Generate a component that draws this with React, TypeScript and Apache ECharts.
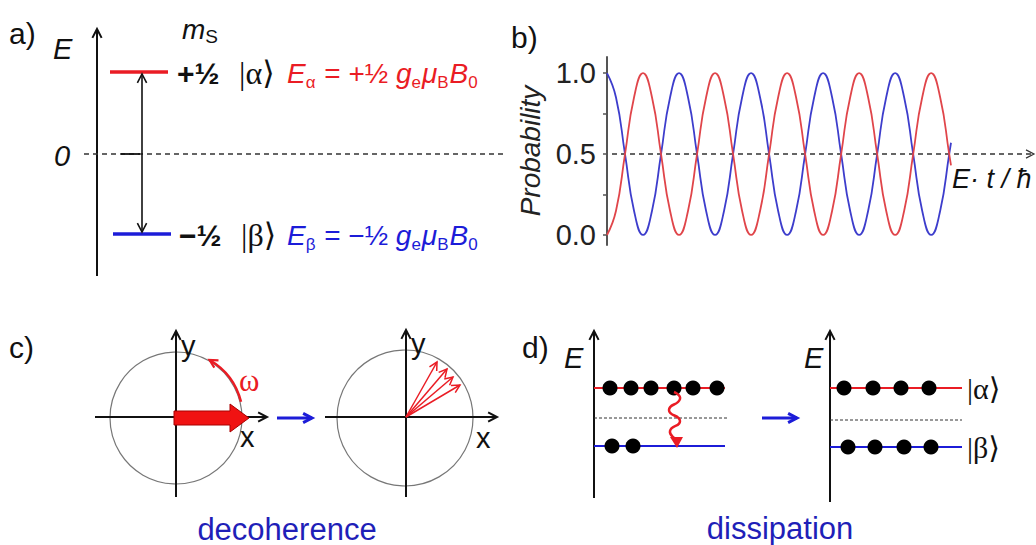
import React, { useEffect, useRef } from "react";
import * as echarts from "echarts";

// ---- Panel b data ----
const tValues = [
  0, 0.25, 0.5, 0.75, 1, 1.25, 1.5, 1.75, 2, 2.25, 2.5, 2.75, 3, 3.25, 3.5, 3.75,
  4, 4.25, 4.5, 4.75, 5, 5.25, 5.5, 5.75, 6, 6.25, 6.5, 6.75, 7, 7.25, 7.5, 7.75,
  8, 8.25, 8.5, 8.75, 9, 9.25, 9.5, 9.55,
];
const blueProb = [
  1.0, 0.85, 0.5, 0.15, 0.0, 0.15, 0.5, 0.85, 1.0, 0.85, 0.5, 0.15, 0.0, 0.15, 0.5, 0.85,
  1.0, 0.85, 0.5, 0.15, 0.0, 0.15, 0.5, 0.85, 1.0, 0.85, 0.5, 0.15, 0.0, 0.15, 0.5, 0.85,
  1.0, 0.85, 0.5, 0.15, 0.0, 0.15, 0.5, 0.57,
];
const redProb = [
  0.0, 0.15, 0.5, 0.85, 1.0, 0.85, 0.5, 0.15, 0.0, 0.15, 0.5, 0.85, 1.0, 0.85, 0.5, 0.15,
  0.0, 0.15, 0.5, 0.85, 1.0, 0.85, 0.5, 0.15, 0.0, 0.15, 0.5, 0.85, 1.0, 0.85, 0.5, 0.15,
  0.0, 0.15, 0.5, 0.85, 1.0, 0.85, 0.5, 0.43,
];
const yLabelValues = [0, 0.5, 1];
const yTickValues = [0, 0.25, 0.5, 0.75, 1];

// ---- Panel d populations ----
const upperBefore = 6;
const lowerBefore = 2;
const upperAfter = 4;
const lowerAfter = 4;

const SANS = '"Liberation Sans", Arial, Helvetica, sans-serif';
const SERIF = '"Liberation Serif", "Times New Roman", "DejaVu Serif", serif';
const RED = "#ea1c24";
const BLUE = "#1c1cd8";
const CURVE_RED = "#e0454a";
const CURVE_BLUE = "#3d3dcc";
const DARK_BLUE = "#1f1fb8";

type Pt = [number, number];

function seg(x1: number, y1: number, x2: number, y2: number, stroke: string, lineWidth: number, lineDash?: number[]) {
  return {
    type: "line",
    silent: true,
    shape: { x1, y1, x2, y2 },
    style: { stroke, lineWidth, lineDash: lineDash || null },
  };
}

function head(x1: number, y1: number, x2: number, y2: number, size: number, color: string, lw: number, filled = false) {
  const a = Math.atan2(y2 - y1, x2 - x1);
  const sp = 0.48;
  const p1: Pt = [x2 - size * Math.cos(a - sp), y2 - size * Math.sin(a - sp)];
  const p2: Pt = [x2 - size * Math.cos(a + sp), y2 - size * Math.sin(a + sp)];
  if (filled) {
    return { type: "polygon", silent: true, shape: { points: [p1, [x2, y2], p2] }, style: { fill: color, stroke: color, lineWidth: 1 } };
  }
  return { type: "polyline", silent: true, shape: { points: [p1, [x2, y2], p2] }, style: { stroke: color, lineWidth: lw, fill: "none" } };
}

function arrow(x1: number, y1: number, x2: number, y2: number, color: string, lw: number, size: number) {
  return [seg(x1, y1, x2, y2, color, lw), head(x1, y1, x2, y2, size, color, lw)];
}

function txt(x: number, y: number, text: string, o: any = {}) {
  return {
    type: "text",
    silent: true,
    x,
    y,
    style: {
      text,
      fill: o.fill || "#111",
      fontSize: o.fontSize || 28,
      fontFamily: o.fontFamily || SANS,
      fontStyle: o.fontStyle || "normal",
      fontWeight: o.fontWeight || "normal",
      align: o.align || "left",
      verticalAlign: o.verticalAlign || "middle",
      rich: o.rich,
    },
  };
}

function energyRich(color: string) {
  const base = { fill: color, fontFamily: SANS, fontSize: 28, lineHeight: 36, verticalAlign: "middle" };
  return {
    i: { ...base, fontStyle: "italic" },
    n: { ...base },
    s: { fill: color, fontFamily: SANS, fontSize: 17, lineHeight: 15, verticalAlign: "bottom", padding: [0, 1, 0, 0] },
  };
}

function dots(xs: number[], y: number) {
  return xs.map((x) => ({ type: "circle", silent: true, shape: { cx: x, cy: y, r: 7.5 }, style: { fill: "#000" } }));
}

function buildGraphic() {
  const g: any[] = [];

  // ---------- Panel a ----------
  g.push(txt(9, 33, "a)", { fontSize: 30 }));
  g.push(...arrow(97, 276, 97, 29, "#111", 2, 10));
  g.push(txt(53, 49, "E", { fontStyle: "italic", fontSize: 29 }));
  g.push(txt(182, 29, "{i|m}{s|S}", {
    rich: {
      i: { fill: "#111", fontFamily: SANS, fontSize: 28, fontStyle: "italic", lineHeight: 34, verticalAlign: "middle" },
      s: { fill: "#111", fontFamily: SANS, fontSize: 19, lineHeight: 15, verticalAlign: "bottom" },
    },
  }));
  g.push(txt(54, 156, "0", { fontStyle: "italic", fontSize: 29 }));
  g.push(seg(84, 154, 505, 154, "#333", 1.3, [5, 4]));
  g.push(seg(121, 154, 140, 154, "#111", 1.8));
  g.push(seg(110, 72, 168, 72, RED, 3.5));
  g.push(seg(113, 234, 171, 234, BLUE, 3.5));
  g.push(seg(142, 76, 142, 230, "#111", 1.6));
  g.push(head(142, 100, 142, 74, 10, "#111", 1.6));
  g.push(head(142, 200, 142, 232, 10, "#111", 1.6));
  g.push(txt(177, 73, "+½", { fontWeight: "bold", fontSize: 30 }));
  g.push(txt(239, 73, "|α⟩", { fontFamily: SERIF, fontSize: 32 }));
  g.push(txt(287, 73, "{i|E}{s|α}{n| = +½ }{i|g}{s|e}{i|μ}{s|B}{i|B}{s|0}", { rich: energyRich(RED) }));
  g.push(txt(179, 235, "−½", { fontWeight: "bold", fontSize: 30 }));
  g.push(txt(241, 235, "|β⟩", { fontFamily: SERIF, fontSize: 32 }));
  g.push(txt(287, 235, "{i|E}{s|β}{n| = −½ }{i|g}{s|e}{i|μ}{s|B}{i|B}{s|0}", { rich: energyRich(BLUE) }));

  // ---------- Panel b extras ----------
  g.push(txt(511, 37, "b)", { fontSize: 30 }));
  g.push(seg(612, 154, 1032, 154, "#333", 1.3, [5, 4]));
  g.push(head(1020, 154, 1034, 154, 9, "#333", 1.2));
  g.push(txt(952, 179, "E· t / ħ", { fontStyle: "italic", fontSize: 27 }));

  // ---------- Panel c ----------
  g.push(txt(9, 347, "c)", { fontSize: 30 }));
  // left circle
  g.push({ type: "circle", silent: true, shape: { cx: 176, cy: 418, r: 66 }, style: { fill: "none", stroke: "#777", lineWidth: 1.2 } });
  g.push(...arrow(95, 417, 267, 417, "#111", 2, 10));
  g.push(...arrow(176, 497, 176, 331, "#111", 2, 10));
  g.push(txt(181, 346, "y", { fontSize: 29 }));
  g.push(txt(240, 437, "x", { fontSize: 29 }));
  g.push({
    type: "polygon",
    silent: true,
    shape: { points: [[174, 411], [230, 411], [230, 404], [249, 418], [230, 432], [230, 425], [174, 425]] },
    style: { fill: "#f01212", stroke: "#a80000", lineWidth: 1 },
  });
  const a0 = (-14 * Math.PI) / 180;
  const a1 = (-60 * Math.PI) / 180;
  const rw = 67;
  g.push({ type: "arc", silent: true, shape: { cx: 176, cy: 418, r: rw, startAngle: a0, endAngle: a1, clockwise: false }, style: { stroke: RED, lineWidth: 2.5, fill: "none" } });
  const ex = 176 + rw * Math.cos(a1);
  const ey = 418 + rw * Math.sin(a1);
  g.push(head(ex - 10 * Math.sin(a1), ey + 10 * Math.cos(a1), ex, ey, 9, RED, 2.2));
  g.push(txt(239, 380, "ω", { fontFamily: SERIF, fontSize: 31, fill: RED }));
  // blue arrow
  g.push(...arrow(277, 418, 312, 418, BLUE, 3, 10));
  // right circle
  g.push({ type: "circle", silent: true, shape: { cx: 405, cy: 418, r: 68 }, style: { fill: "none", stroke: "#777", lineWidth: 1.2 } });
  g.push(...arrow(325, 417, 497, 417, "#111", 2, 10));
  g.push(...arrow(406, 497, 406, 330, "#111", 2, 10));
  g.push(txt(411, 344, "y", { fontSize: 29 }));
  g.push(txt(476, 438, "x", { fontSize: 29 }));
  const tips: Pt[] = [[437, 362], [447, 369], [453, 377], [460, 385]];
  tips.forEach(([tx, ty]) => g.push(...arrow(406, 417, tx, ty, RED, 1.5, 9)));
  g.push(txt(287, 529, "decoherence", { fontSize: 31, fill: DARK_BLUE, align: "center" }));

  // ---------- Panel d ----------
  g.push(txt(522, 347, "d)", { fontSize: 30 }));
  // left diagram
  g.push(...arrow(594, 498, 594, 331, "#111", 2, 10));
  g.push(txt(564, 358, "E", { fontStyle: "italic", fontSize: 29 }));
  g.push(seg(594, 388, 725, 388, RED, 2.2));
  g.push(seg(594, 418, 727, 418, "#333", 1, [3, 2]));
  g.push(seg(594, 446, 725, 446, BLUE, 2.2));
  const upBeforeX = [610, 631, 651, 674, 693, 717].slice(0, upperBefore);
  const lowBeforeX = [612, 633].slice(0, lowerBefore);
  g.push(...dots(upBeforeX, 388));
  g.push(...dots(lowBeforeX, 446));
  g.push({
    type: "polyline",
    silent: true,
    shape: { points: [[674, 392], [680, 399], [669, 410], [680, 421], [670, 431], [676, 439]], smooth: 0.6 },
    style: { stroke: RED, lineWidth: 2.5, fill: "none" },
  });
  g.push({ type: "polygon", silent: true, shape: { points: [[670, 437], [683, 437], [677, 448]] }, style: { fill: RED } });
  g.push(...arrow(762, 418, 797, 418, BLUE, 3, 10));
  // right diagram
  g.push(...arrow(830, 502, 830, 331, "#111", 2, 10));
  g.push(txt(804, 358, "E", { fontStyle: "italic", fontSize: 29 }));
  g.push(seg(830, 388, 962, 388, RED, 2.2));
  g.push(seg(830, 420, 962, 420, "#333", 1, [3, 2]));
  g.push(seg(830, 447, 962, 447, BLUE, 2.2));
  g.push(...dots([844, 873, 901, 929].slice(0, upperAfter), 388));
  g.push(...dots([848, 875, 904, 931].slice(0, lowerAfter), 447));
  g.push(txt(967, 388, "|α⟩", { fontFamily: SERIF, fontSize: 30 }));
  g.push(txt(967, 447, "|β⟩", { fontFamily: SERIF, fontSize: 30 }));
  g.push(txt(780, 528, "dissipation", { fontSize: 31, fill: DARK_BLUE, align: "center" }));

  return g;
}

export default function App() {
  const ref = useRef<HTMLDivElement>(null);
  useEffect(() => {
    if (!ref.current) return;
    const chart = echarts.init(ref.current, null, { renderer: "svg" });
    const option: any = {
      animation: false,
      backgroundColor: "#ffffff",
      grid: { left: 607, top: 57, width: 344, height: 188 },
      xAxis: { type: "value", min: 0, max: 9.55, show: false },
      yAxis: {
        type: "value",
        min: -0.062,
        max: 1.1,
        splitLine: { show: false },
        axisLine: { show: true, lineStyle: { color: "#555", width: 2 } },
        axisTick: { show: true, customValues: yTickValues, length: 4, lineStyle: { color: "#555", width: 1.5 } },
        axisLabel: {
          customValues: yLabelValues,
          formatter: (v: number) => v.toFixed(1),
          fontSize: 29,
          color: "#222",
          fontFamily: SANS,
          margin: 11,
        },
        name: "Probability",
        nameLocation: "middle",
        nameRotate: 90,
        nameGap: 63,
        nameTextStyle: { fontSize: 28, fontStyle: "italic", color: "#222", fontFamily: SANS },
      },
      series: [
        {
          type: "line",
          data: tValues.map((t, i) => [t, blueProb[i]]),
          showSymbol: false,
          smooth: true,
          lineStyle: { color: CURVE_BLUE, width: 1.8 },
          itemStyle: { color: CURVE_BLUE },
          silent: true,
        },
        {
          type: "line",
          data: tValues.map((t, i) => [t, redProb[i]]),
          showSymbol: false,
          smooth: true,
          lineStyle: { color: CURVE_RED, width: 1.8 },
          itemStyle: { color: CURVE_RED },
          silent: true,
        },
      ],
      graphic: { elements: buildGraphic() },
    };
    chart.setOption(option);
    return () => chart.dispose();
  }, []);
  return <div ref={ref} style={{ position: "absolute", left: 0, top: 0, width: 1036, height: 545 }} />;
}
